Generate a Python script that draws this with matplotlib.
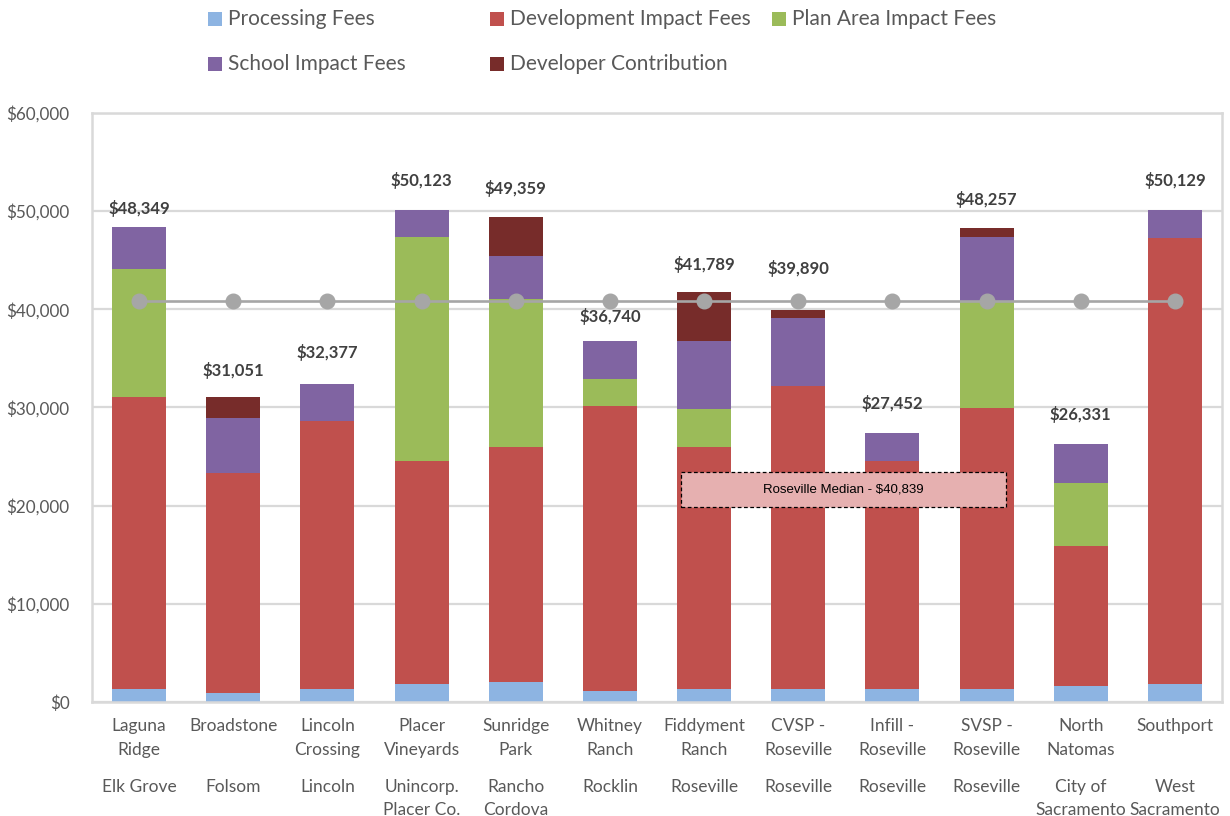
import matplotlib.pyplot as plt
import matplotlib.ticker as ticker
from matplotlib.patches import Rectangle
import numpy as np

projects = ["Laguna\nRidge", "Broadstone", "Lincoln\nCrossing", "Placer\nVineyards", "Sunridge\nPark",
            "Whitney\nRanch", "Fiddyment\nRanch", "CVSP -\nRoseville", "Infill -\nRoseville",
            "SVSP -\nRoseville", "North\nNatomas", "Southport"]
cities = ["Elk Grove", "Folsom", "Lincoln", "Unincorp.\nPlacer Co.", "Rancho\nCordova", "Rocklin",
          "Roseville", "Roseville", "Roseville", "Roseville", "City of\nSacramento", "West\nSacramento"]

processing = [1300, 900, 1300, 1800, 2000, 1100, 1300, 1300, 1300, 1300, 1600, 1800]
development = [29800, 22400, 27300, 22700, 24000, 29100, 24700, 30900, 23200, 28700, 14300, 45500]
plan_area = [13000, 0, 0, 22900, 15100, 2700, 3800, 0, 0, 10700, 6400, 0]
school = [4249, 5600, 3777, 2723, 4300, 3840, 7000, 6900, 2952, 6700, 4031, 2829]
totals = [48349, 31051, 32377, 50123, 49359, 36740, 41789, 39890, 27452, 48257, 26331, 50129]
median_value = 40839

# developer contribution is whatever is left up to the total
contribution = [t - p - d - a - s for t, p, d, a, s in
                zip(totals, processing, development, plan_area, school)]

series = [
    ("Processing Fees", processing, "#8DB4E2"),
    ("Development Impact Fees", development, "#C0504D"),
    ("Plan Area Impact Fees", plan_area, "#9BBB59"),
    ("School Impact Fees", school, "#8064A2"),
    ("Developer Contribution", contribution, "#772C2A"),
]

# label offsets above bar tops, in pixels (Excel labels were nudged by hand)
label_offsets = [19, 27, 32, 29, 29, 25, 27, 42, 29, 29, 29, 29]

FONT = "Lato"
TEXT_COLOR = "#595959"

fig = plt.figure(figsize=(12.3, 8.16), dpi=100)
ax = fig.add_axes([92 / 1230, 1 - 702 / 816, 1130 / 1230, 589 / 816])

x = np.arange(len(projects))
bottom = np.zeros(len(projects))
for name, vals, color in series:
    vals = np.array(vals, dtype=float)
    ax.bar(x, vals, 0.575, bottom=bottom, color=color, zorder=2)
    bottom += vals

ax.plot(x, [median_value] * len(x), color="#A6A6A6", lw=1.9, marker="o", ms=10.5, zorder=3)

for i, t in enumerate(totals):
    ax.annotate(f"${t:,.0f}", (x[i], t), xytext=(0, label_offsets[i] * 0.72),
                textcoords="offset points", ha="center", va="center",
                fontsize=12, fontweight="bold", color="#404040", family=FONT, zorder=4)

ax.set_xlim(-0.5, len(projects) - 0.5)
ax.set_ylim(0, 60000)
ax.yaxis.set_major_locator(ticker.MultipleLocator(10000))
ax.yaxis.set_major_formatter(ticker.FuncFormatter(lambda v, p: f"${v:,.0f}"))
ax.grid(axis="y", color="#D9D9D9", lw=1.6, zorder=0)
ax.set_axisbelow(True)
for s in ax.spines.values():
    s.set_color("#D9D9D9")
    s.set_linewidth(1.8)
ax.tick_params(length=0, pad=16, labelsize=12.3, labelcolor=TEXT_COLOR)
for lab in ax.get_yticklabels():
    lab.set_family(FONT)
ax.set_xticks(x)
ax.set_xticklabels([])

for i in range(len(projects)):
    ax.text(x[i], -0.028, projects[i], transform=ax.get_xaxis_transform(), ha="center", va="top",
            fontsize=12.5, color=TEXT_COLOR, family=FONT, linespacing=1.55)
    ax.text(x[i], -0.13, cities[i], transform=ax.get_xaxis_transform(), ha="center", va="top",
            fontsize=12.5, color=TEXT_COLOR, family=FONT, linespacing=1.55)

# median note box
ax.add_patch(Rectangle((0.5212, 0.331), 0.2876, 0.0594, transform=ax.transAxes,
                       facecolor="#E6B0B0", edgecolor="black", ls=(0, (3, 2)), lw=0.9, zorder=5))
ax.text(0.665, 0.3608, f"Roseville Median - ${median_value:,.0f}", transform=ax.transAxes,
        ha="center", va="center", fontsize=9.5, family="Liberation Sans", color="black", zorder=6)

# legend laid out like the Excel one
legend_pos = [(208, 19), (490, 19), (772, 19), (208, 64), (490, 64)]
for (name, vals, color), (lx, ly) in zip(series, legend_pos):
    fig.patches.append(Rectangle((lx / 1230, 1 - (ly + 7) / 816), 14 / 1230, 14 / 816,
                                 transform=fig.transFigure, facecolor=color, edgecolor="none"))
    fig.text((lx + 20) / 1230, 1 - ly / 816, name, ha="left", va="center",
             fontsize=15, color=TEXT_COLOR, family=FONT)

fig.savefig("out.png", dpi=100)
